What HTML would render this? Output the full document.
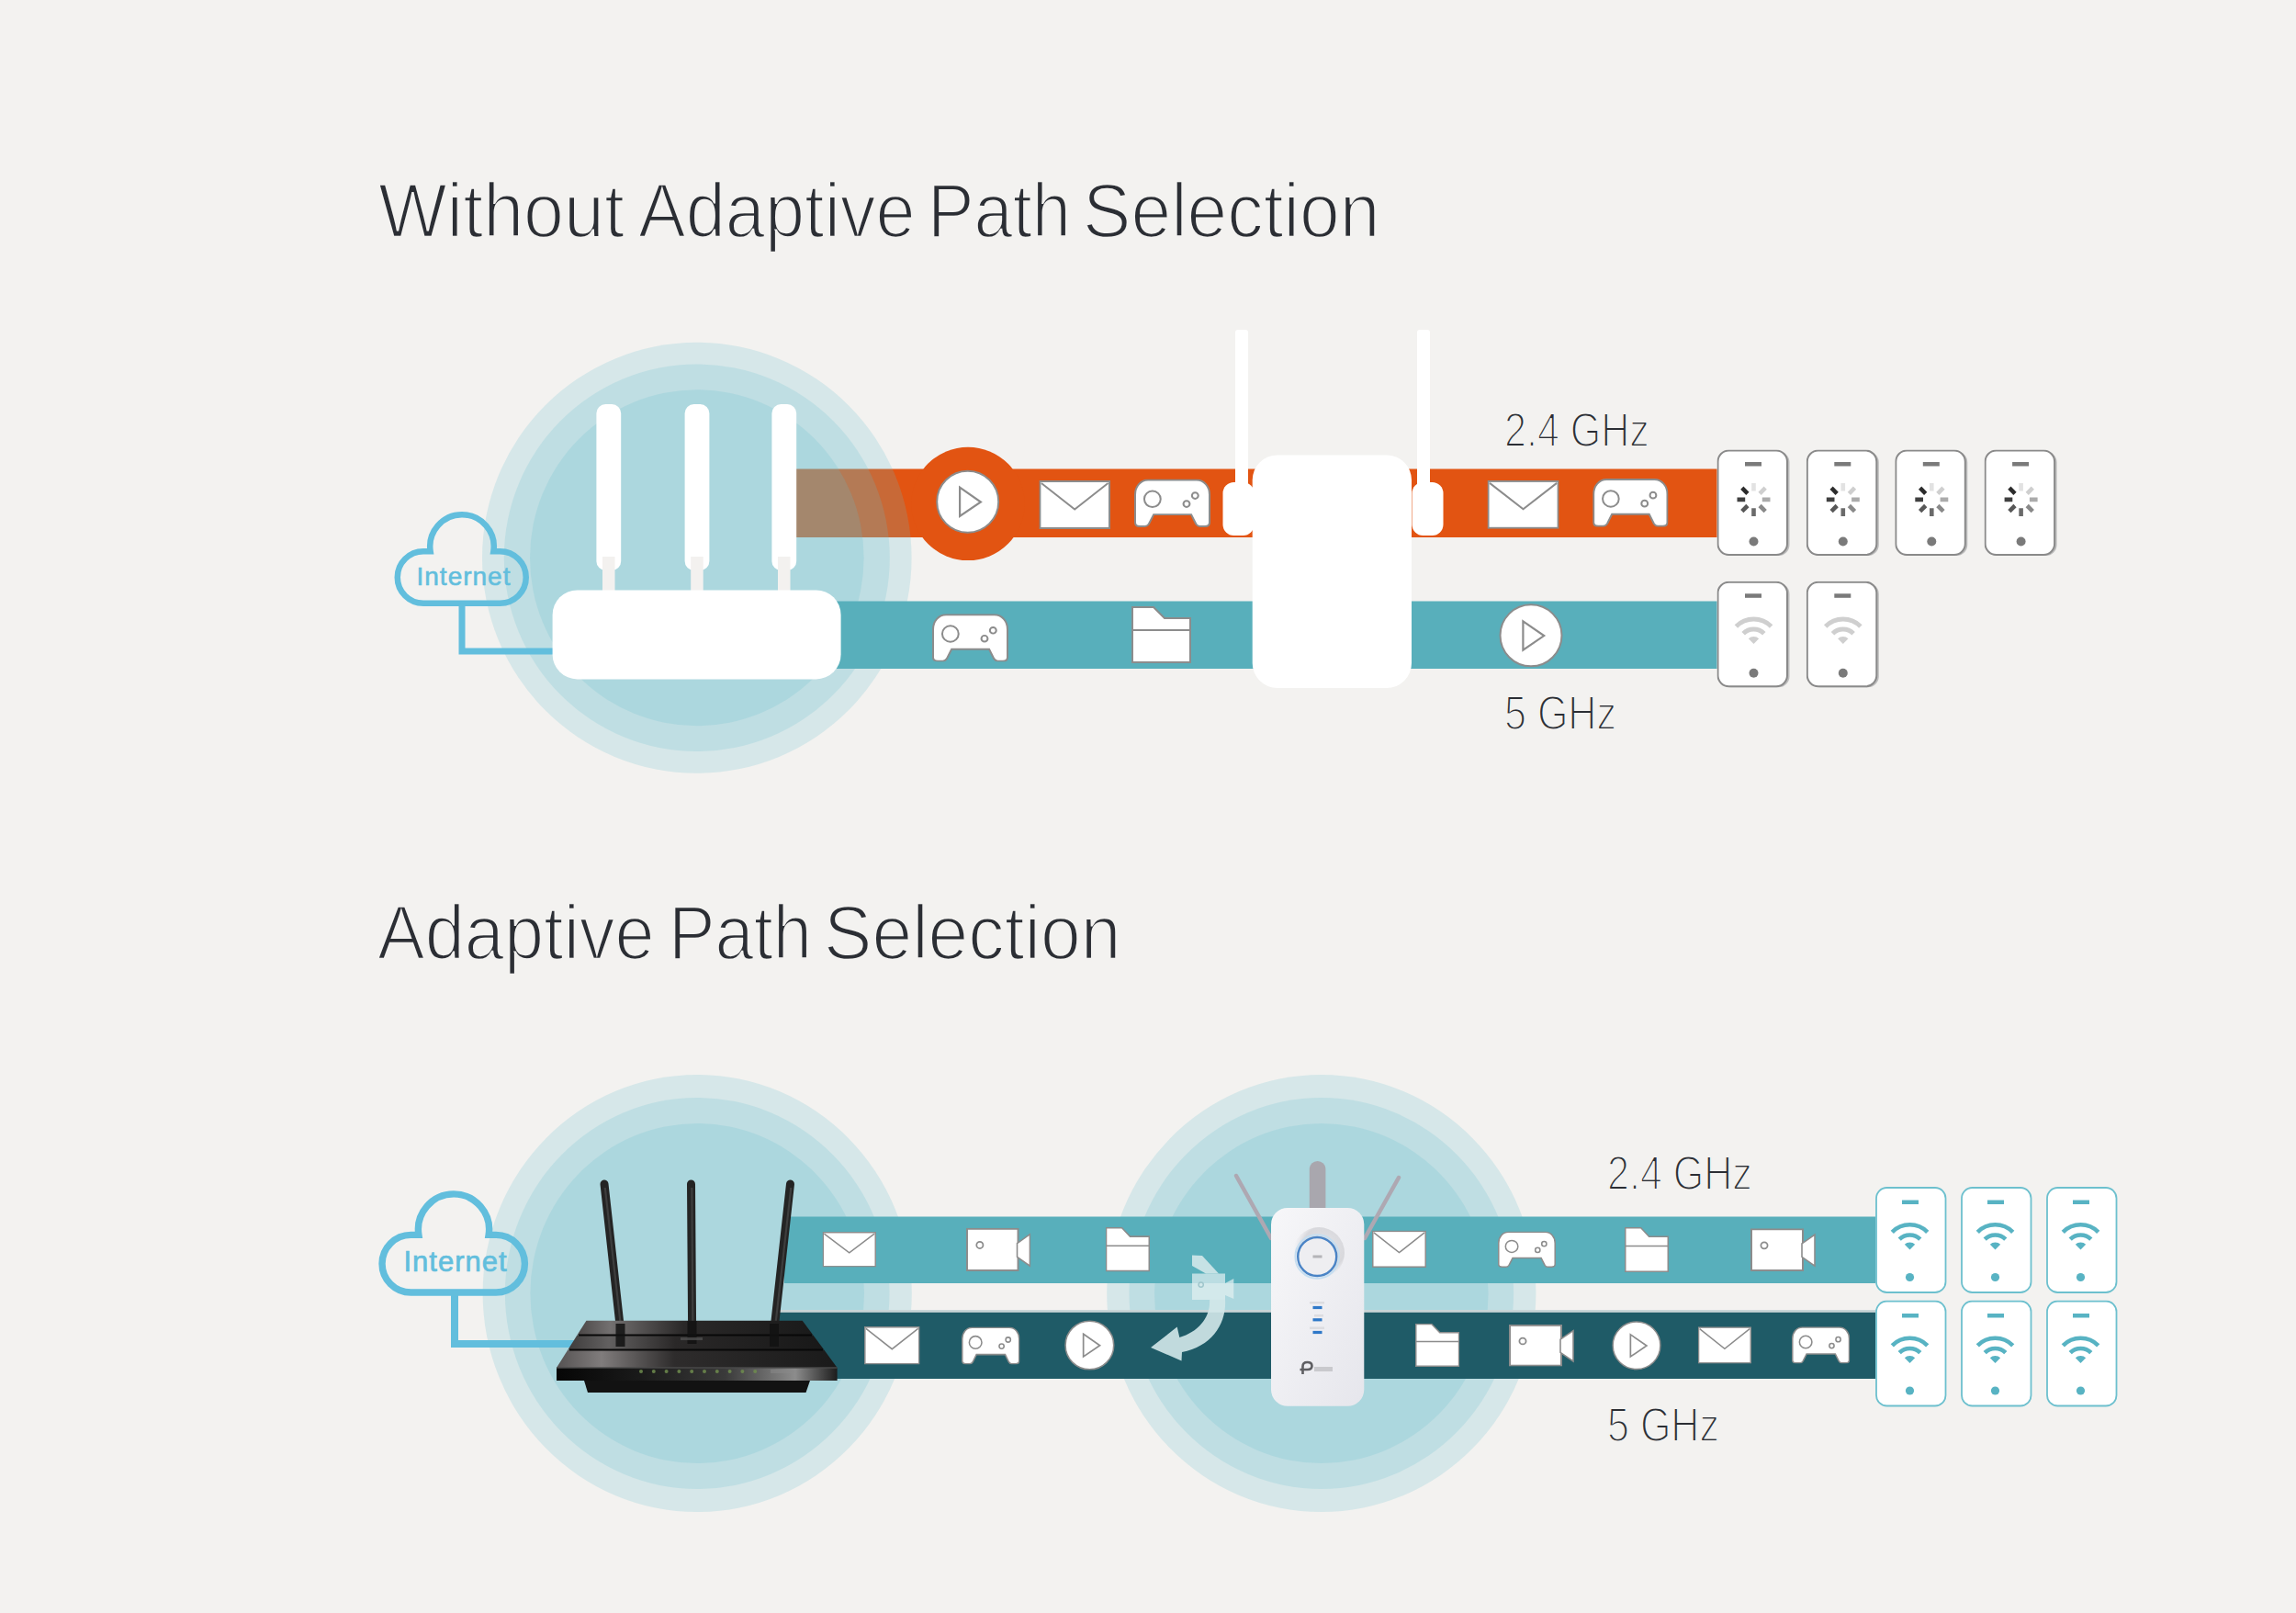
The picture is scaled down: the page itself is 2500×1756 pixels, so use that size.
<!DOCTYPE html>
<html><head><meta charset="utf-8"><title>Adaptive Path Selection</title>
<style>html,body{margin:0;padding:0;background:#f3f2f0;} body{width:2500px;height:1756px;position:relative;overflow:hidden;}</style>
</head><body>
<svg width="2500" height="1756" viewBox="0 0 2500 1756" style="position:absolute;left:0;top:0">
<defs>
 <symbol id="env" viewBox="0 0 78 53" preserveAspectRatio="none">
  <rect x="1" y="1" width="76" height="51" fill="#fff" stroke="#8c8c8c" stroke-width="2"/>
  <polyline points="2.5,3 39,31.5 75.5,3" fill="none" stroke="#8c8c8c" stroke-width="2"/>
 </symbol>
 <symbol id="pad" viewBox="0 0 82 53" preserveAspectRatio="none">
  <path d="M15,1 H67 C75,1 81,8 81,17 V48 C81,51 79,52 76,52 H70.5 C68.5,52 67.5,51 66.5,49.5 L61.3,39 H20.9 L15.7,49.5 C14.7,51 13.5,52 11.5,52 H6 C3,52 1,51 1,48 V17 C1,8 7,1 15,1 Z" fill="#fff" stroke="#8c8c8c" stroke-width="2"/>
  <circle cx="19.6" cy="22" r="8.8" fill="none" stroke="#8c8c8c" stroke-width="2"/>
  <circle cx="56.3" cy="27.3" r="3.4" fill="none" stroke="#8c8c8c" stroke-width="2"/>
  <circle cx="65.5" cy="18.2" r="3.4" fill="none" stroke="#8c8c8c" stroke-width="2"/>
 </symbol>
 <symbol id="play" viewBox="-35 -35 70 70">
  <circle r="33.5" fill="#fff" stroke="#8c8c8c" stroke-width="2"/>
  <polygon points="-8.6,-15.5 14.2,0.3 -8.6,15.8" fill="none" stroke="#8c8c8c" stroke-width="2.2" stroke-linejoin="miter"/>
 </symbol>
 <symbol id="fold" viewBox="0 0 65 62" preserveAspectRatio="none">
  <path d="M1,1 H24 L36,13 H64 V61 H1 Z" fill="#fff" stroke="#8c8c8c" stroke-width="2"/>
  <line x1="1" y1="26" x2="64" y2="26" stroke="#8c8c8c" stroke-width="2"/>
 </symbol>
 <symbol id="cam" viewBox="0 0 71 48" preserveAspectRatio="none">
  <rect x="1" y="1" width="56" height="46" fill="#fff" stroke="#8c8c8c" stroke-width="2"/>
  <polygon points="56,17 70,7 70,42 56,32" fill="#fff" stroke="#8c8c8c" stroke-width="1.6"/>
  <circle cx="15" cy="19" r="3.6" fill="none" stroke="#8c8c8c" stroke-width="1.8"/>
 </symbol>
 <symbol id="phoneG" viewBox="0 0 80 117">
  <rect x="3" y="2" width="76" height="113.5" rx="12" fill="#bdbdbd"/>
  <rect x="1" y="1" width="75.5" height="113.5" rx="12" fill="#fff" stroke="#8a8a8a" stroke-width="2"/>
  <rect x="30.5" y="13.5" width="18" height="4.5" fill="#7a7a7a"/>
  <circle cx="40" cy="100" r="5" fill="#7a7a7a"/>
 </symbol>
 <symbol id="spin" viewBox="-20 -20 40 40">
  <g stroke-width="4.6" stroke-linecap="butt">
   <line x1="0" y1="-9.3" x2="0" y2="-18" stroke="#e2e2e2"/>
   <line x1="6.6" y1="-6.6" x2="12.7" y2="-12.7" stroke="#cfcfcf"/>
   <line x1="9.3" y1="0" x2="18" y2="0" stroke="#ababab"/>
   <line x1="6.6" y1="6.6" x2="12.7" y2="12.7" stroke="#898989"/>
   <line x1="0" y1="9.3" x2="0" y2="18" stroke="#6a6a6a"/>
   <line x1="-6.6" y1="6.6" x2="-12.7" y2="12.7" stroke="#575757"/>
   <line x1="-9.3" y1="0" x2="-18" y2="0" stroke="#404040"/>
   <line x1="-6.6" y1="-6.6" x2="-12.7" y2="-12.7" stroke="#2c2c2c"/>
  </g>
 </symbol>
 <symbol id="wifiG" viewBox="-25 -32 50 36">
  <g fill="none" stroke="#cfcfcf" stroke-width="5">
   <path d="M-19.1,-19.1 A27 27 0 0 1 19.1,-19.1"/>
   <path d="M-11.3,-11.3 A16 16 0 0 1 11.3,-11.3"/>
  </g>
  <path d="M0,0 L-5.7,-5.7 A8 8 0 0 1 5.7,-5.7 Z" fill="#cfcfcf"/>
 </symbol>
 <symbol id="phoneT" viewBox="0 0 78 117">
  <rect x="1" y="1" width="75.5" height="114" rx="11.5" fill="#fff" stroke="#6dc0ce" stroke-width="1.8"/>
  <rect x="29" y="14.5" width="18" height="4.5" fill="#58b3c3"/>
  <circle cx="37.5" cy="98.5" r="4.6" fill="#58b3c3"/>
  <g fill="none" stroke="#58b3c3" stroke-width="4.6">
   <path d="M18.3,49.3 A27 27 0 0 1 56.7,49.3"/>
   <path d="M26.2,57.2 A16 16 0 0 1 48.8,57.2"/>
  </g>
  <path d="M37.5,68.5 L31.8,62.8 A8 8 0 0 1 43.2,62.8 Z" fill="#58b3c3"/>
 </symbol>
 <linearGradient id="rtT1" x1="0" y1="0" x2="1" y2="0">
  <stop offset="0" stop-color="#4a4646"/><stop offset="0.14" stop-color="#737070"/>
  <stop offset="0.45" stop-color="#2a2828"/><stop offset="1" stop-color="#1a1a1a"/>
 </linearGradient>
 <linearGradient id="rtT2" x1="0" y1="0" x2="1" y2="0">
  <stop offset="0" stop-color="#3e3c3c"/><stop offset="0.16" stop-color="#626060"/>
  <stop offset="0.42" stop-color="#2a2828"/><stop offset="1" stop-color="#181818"/>
 </linearGradient>
 <linearGradient id="rtT3" x1="0" y1="0" x2="1" y2="0">
  <stop offset="0" stop-color="#555252"/><stop offset="0.16" stop-color="#807c7c"/>
  <stop offset="0.42" stop-color="#2e2c2c"/><stop offset="1" stop-color="#1a1a1a"/>
 </linearGradient>
 <linearGradient id="rtFront" x1="0" y1="0" x2="1" y2="0">
  <stop offset="0" stop-color="#060606"/><stop offset="0.3" stop-color="#1a1a1a"/><stop offset="0.6" stop-color="#3a3a3a"/>
  <stop offset="0.85" stop-color="#8c8c8c"/><stop offset="1" stop-color="#1c1c1c"/>
 </linearGradient>
 <linearGradient id="repBody" x1="0" y1="0" x2="1" y2="1">
  <stop offset="0" stop-color="#f7f7f9"/><stop offset="1" stop-color="#e6e6ec"/>
 </linearGradient>
 <radialGradient id="btnGlow" cx="0.6" cy="0.4" r="0.6">
  <stop offset="0" stop-color="#e4e4e8"/><stop offset="0.7" stop-color="#d8d8dc"/><stop offset="1" stop-color="#eeeef2" stop-opacity="0"/>
 </radialGradient>
</defs>
<rect width="2500" height="1756" fill="#f3f2f0"/><rect x="860" y="510.5" width="1009.5" height="74.5" fill="#e25412"/><circle cx="1054" cy="548.4" r="61.7" fill="#e25412"/><ellipse cx="758.8" cy="607.3" rx="233.8" ry="234.5" fill="rgba(98,192,206,0.2)"/><ellipse cx="758.8" cy="607.3" rx="210" ry="210.8" fill="rgba(98,192,206,0.2)"/><ellipse cx="758.8" cy="607.3" rx="181.8" ry="183" fill="rgba(98,192,206,0.2)"/><rect x="880" y="654.5" width="989.5" height="73.5" fill="#58afbb"/><path transform="translate(503,595) scale(1.0)" d="M-34.35,5.25 A34.75 34.75 0 1 1 34.35,5.25 L41.5,5.25 A28.25 28.25 0 0 1 41.5,61.75 L-42,61.75 A28.25 28.25 0 0 1 -42,5.25 Z" fill="none" stroke="#62bedd" stroke-width="6.50"/><polyline points="503,656.75 503,709 603,709" fill="none" stroke="#62bedd" stroke-width="7"/><rect x="649.4" y="440" width="26.8" height="181" rx="10" fill="#fff"/><rect x="656.0" y="606" width="13.5" height="48" fill="#f3f1ef"/><rect x="745.6" y="440" width="26.8" height="181" rx="10" fill="#fff"/><rect x="752.2" y="606" width="13.5" height="48" fill="#f3f1ef"/><rect x="840.4" y="440" width="26.8" height="181" rx="10" fill="#fff"/><rect x="847.0" y="606" width="13.5" height="48" fill="#f3f1ef"/><rect x="601.6" y="642.4" width="314" height="97" rx="27" fill="#fff"/><use href="#play" x="1018.7" y="511.2" width="70.0" height="70.0"/><use href="#env" x="1131.4" y="523.0" width="77.6" height="53.0"/><use href="#pad" x="1235.0" y="521.5" width="83.0" height="52.5"/><use href="#env" x="1619.5" y="522.9" width="78.1" height="52.9"/><use href="#pad" x="1734.2" y="521.0" width="82.3" height="52.8"/><use href="#pad" x="1015.0" y="668.3" width="83.0" height="52.3"/><use href="#fold" x="1232.0" y="660.0" width="65.0" height="62.0"/><use href="#play" x="1632.0" y="656.8" width="70.0" height="70.0"/><rect x="1345" y="359" width="14" height="200" rx="3" fill="#fff"/><rect x="1543" y="359" width="14" height="200" rx="3" fill="#fff"/><rect x="1331.5" y="525" width="34" height="58" rx="12" fill="#fff"/><rect x="1537.5" y="525" width="34" height="58" rx="12" fill="#fff"/><rect x="1363.7" y="495.5" width="173.3" height="253.5" rx="27" fill="#fff"/><use href="#phoneG" x="1869.5" y="489.5" width="80.0" height="117.0"/><use href="#spin" x="1889.5" y="523.9" width="40.0" height="40.0"/><use href="#phoneG" x="1966.8" y="489.5" width="80.0" height="117.0"/><use href="#spin" x="1986.8" y="523.9" width="40.0" height="40.0"/><use href="#phoneG" x="2063.3" y="489.5" width="80.0" height="117.0"/><use href="#spin" x="2083.3" y="523.9" width="40.0" height="40.0"/><use href="#phoneG" x="2160.6" y="489.5" width="80.0" height="117.0"/><use href="#spin" x="2180.6" y="523.9" width="40.0" height="40.0"/><use href="#phoneG" x="1869.5" y="632.8" width="80.0" height="117.0"/><use href="#wifiG" x="1884.5" y="669.0" width="50.0" height="36.0"/><use href="#phoneG" x="1966.8" y="632.8" width="80.0" height="117.0"/><use href="#wifiG" x="1981.8" y="669.0" width="50.0" height="36.0"/><ellipse cx="759.2" cy="1408" rx="233.6" ry="238" fill="rgba(98,192,206,0.2)"/><ellipse cx="759.2" cy="1408" rx="209.3" ry="213" fill="rgba(98,192,206,0.2)"/><ellipse cx="759.2" cy="1408" rx="181.8" ry="185" fill="rgba(98,192,206,0.2)"/><ellipse cx="1438.8" cy="1408" rx="233.6" ry="238" fill="rgba(98,192,206,0.2)"/><ellipse cx="1438.8" cy="1408" rx="209.3" ry="213" fill="rgba(98,192,206,0.2)"/><ellipse cx="1438.8" cy="1408" rx="181.8" ry="185" fill="rgba(98,192,206,0.2)"/><rect x="854" y="1324.5" width="1188" height="72.5" fill="#58afbb"/><rect x="845" y="1426" width="1197" height="3" fill="#c9d5d7"/><rect x="845" y="1428.8" width="1197" height="72.2" fill="#1f5b67"/><path transform="translate(494,1338.5) scale(1.11)" d="M-34.35,5.25 A34.75 34.75 0 1 1 34.35,5.25 L41.5,5.25 A28.25 28.25 0 0 1 41.5,61.75 L-42,61.75 A28.25 28.25 0 0 1 -42,5.25 Z" fill="none" stroke="#62bedd" stroke-width="6.67"/><polyline points="495,1407 495,1463 630,1463" fill="none" stroke="#62bedd" stroke-width="8"/><line x1="658" y1="1289" x2="675.5" y2="1447" stroke="#242424" stroke-width="9" stroke-linecap="round"/><line x1="658.8" y1="1293" x2="676.3" y2="1447" stroke="#3e3e3e" stroke-width="2.2"/><line x1="752.5" y1="1289" x2="753.6" y2="1444" stroke="#242424" stroke-width="9" stroke-linecap="round"/><line x1="753.3" y1="1293" x2="754.4" y2="1444" stroke="#3e3e3e" stroke-width="2.2"/><line x1="860.5" y1="1289" x2="843" y2="1447" stroke="#242424" stroke-width="9" stroke-linecap="round"/><line x1="861.3" y1="1293" x2="843.8" y2="1447" stroke="#3e3e3e" stroke-width="2.2"/><polygon points="638.4,1437.7 873.7,1437.7 885.4,1453.6 628.4,1453.6" fill="url(#rtT1)"/><polygon points="628.4,1453.6 885.4,1453.6 897.3,1469.6 618.3,1469.6" fill="url(#rtT2)"/><polygon points="618.3,1469.6 897.3,1469.6 911.6,1489 606,1489" fill="url(#rtT3)"/><line x1="630" y1="1453.6" x2="884" y2="1453.6" stroke="#080808" stroke-width="2"/><line x1="620" y1="1469.6" x2="896" y2="1469.6" stroke="#080808" stroke-width="2"/><rect x="606" y="1489" width="305.6" height="14" fill="url(#rtFront)"/><rect x="606" y="1488" width="305.6" height="2" fill="#4a4a4a" opacity="0.7"/><polygon points="636,1503 882,1503 877.5,1516 640,1516" fill="#121212"/><circle cx="698.0" cy="1493" r="2" fill="#6f8c4e" opacity="0.85"/><circle cx="711.8" cy="1493" r="2" fill="#6f8c4e" opacity="0.85"/><circle cx="725.6" cy="1493" r="2" fill="#6f8c4e" opacity="0.85"/><circle cx="739.4" cy="1493" r="2" fill="#6f8c4e" opacity="0.85"/><circle cx="753.2" cy="1493" r="2" fill="#6f8c4e" opacity="0.85"/><circle cx="767.0" cy="1493" r="2" fill="#6f8c4e" opacity="0.85"/><circle cx="780.8" cy="1493" r="2" fill="#6f8c4e" opacity="0.85"/><circle cx="794.6" cy="1493" r="2" fill="#6f8c4e" opacity="0.85"/><circle cx="808.4" cy="1493" r="2" fill="#6f8c4e" opacity="0.85"/><circle cx="822.2" cy="1493" r="2" fill="#6f8c4e" opacity="0.85"/><rect x="839" y="1491" width="26" height="4" fill="#8a8a8a" opacity="0.5"/><rect x="670.5" y="1441" width="10" height="25" fill="#121212" opacity="0.85"/><rect x="748.5" y="1438" width="10" height="25" fill="#121212" opacity="0.85"/><rect x="838" y="1441" width="10" height="25" fill="#121212" opacity="0.85"/><rect x="741" y="1456" width="24" height="3" fill="#555" opacity="0.7"/><use href="#env" x="895.5" y="1341.0" width="58.5" height="38.5"/><use href="#cam" x="1052.0" y="1336.8" width="70.4" height="47.2"/><use href="#fold" x="1203.8" y="1336.0" width="48.2" height="48.4"/><use href="#env" x="1494.0" y="1339.6" width="59.0" height="40.4"/><use href="#pad" x="1631.0" y="1340.6" width="63.0" height="39.4"/><use href="#fold" x="1769.0" y="1336.0" width="48.0" height="49.0"/><use href="#cam" x="1906.0" y="1337.3" width="71.0" height="46.7"/><use href="#env" x="941.0" y="1444.0" width="60.6" height="41.5"/><use href="#pad" x="1047.0" y="1444.4" width="63.5" height="41.1"/><use href="#play" x="1158.9" y="1437.0" width="55.0" height="55.0"/><use href="#fold" x="1541.0" y="1440.8" width="48.3" height="47.2"/><use href="#cam" x="1643.0" y="1442.0" width="71.0" height="45.6"/><use href="#play" x="1755.0" y="1437.8" width="54.0" height="54.0"/><use href="#env" x="1848.8" y="1444.3" width="58.2" height="40.3"/><use href="#pad" x="1951.0" y="1444.3" width="63.3" height="40.3"/><g fill="#e2f0f1" opacity="0.72"><rect x="1298" y="1386.5" width="36" height="28.5"/><polygon points="1334,1397 1343.3,1392 1343.3,1414 1334,1410"/></g><circle cx="1307.7" cy="1398.6" r="2.6" fill="none" stroke="#9fc6cc" stroke-width="1.5"/><g fill="#d3e8ea" opacity="0.9"><polygon points="1298,1366.5 1309,1367 1327,1386.5 1313,1386.5 1298,1378"/><path d="M1317,1414 L1334,1414 C1336,1440 1320,1466 1287,1472 L1286.5,1481.5 L1253,1467 L1281.7,1444.6 L1284.3,1456 C1305,1450 1318.5,1434 1317,1414 Z"/></g><rect x="1425.8" y="1264" width="17.6" height="70" rx="8.8" fill="#a9a7ae"/><line x1="1346" y1="1280" x2="1384" y2="1348" stroke="#aea8b2" stroke-width="4.5" stroke-linecap="round"/><line x1="1523" y1="1282" x2="1486" y2="1348" stroke="#aea8b2" stroke-width="4.5" stroke-linecap="round"/><rect x="1384" y="1315" width="101.3" height="215.8" rx="18" fill="url(#repBody)"/><circle cx="1436" cy="1364" r="28" fill="url(#btnGlow)"/><circle cx="1434.2" cy="1368" r="23.8" fill="none" stroke="#c6def0" stroke-width="2"/><circle cx="1434.2" cy="1368" r="21" fill="#eeeef1" stroke="#4a84c6" stroke-width="2.4"/><rect x="1429.5" y="1366.5" width="10" height="3" fill="#b4b4b8"/><rect x="1429.5" y="1421.9" width="10" height="3.2" fill="#2f78c8"/><rect x="1429.5" y="1435.2" width="10" height="3.2" fill="#2f78c8"/><rect x="1429.5" y="1448.9" width="10" height="3.2" fill="#2f78c8"/><rect x="1426" y="1417" width="16" height="2.5" fill="#dcdce0"/><rect x="1431" y="1431" width="10" height="2.5" fill="#dcdce0"/><rect x="1426" y="1444.5" width="16" height="2.5" fill="#dcdce0"/><path d="M1418.5,1496 L1418.5,1487.5 Q1418.5,1483 1423.5,1483 Q1428.5,1483 1428.5,1487 Q1428.5,1491 1423.5,1491 L1415.5,1491" fill="none" stroke="#5e5e62" stroke-width="2.6"/><rect x="1431" y="1488" width="20" height="5" fill="#c9c9cd"/><use href="#phoneT" x="2042.0" y="1292.0" width="78.0" height="117.0"/><use href="#phoneT" x="2135.0" y="1292.0" width="78.0" height="117.0"/><use href="#phoneT" x="2228.0" y="1292.0" width="78.0" height="117.0"/><use href="#phoneT" x="2042.0" y="1415.5" width="78.0" height="117.0"/><use href="#phoneT" x="2135.0" y="1415.5" width="78.0" height="117.0"/><use href="#phoneT" x="2228.0" y="1415.5" width="78.0" height="117.0"/></svg>
<div style="position:absolute;left:411.8px;top:186.6px;font-family:'Liberation Sans',sans-serif;font-size:84.2px;line-height:1;white-space:nowrap;font-weight:normal;color:#2b2e34;transform-origin:0 0;transform:scaleX(0.939);-webkit-text-stroke:2.4px #f3f2f0;">Without</div><div style="position:absolute;left:694.76px;top:186.6px;font-family:'Liberation Sans',sans-serif;font-size:84.2px;line-height:1;white-space:nowrap;font-weight:normal;color:#2b2e34;transform-origin:0 0;transform:scaleX(0.921);-webkit-text-stroke:2.4px #f3f2f0;">Adaptive</div><div style="position:absolute;left:1010.0px;top:186.6px;font-family:'Liberation Sans',sans-serif;font-size:84.2px;line-height:1;white-space:nowrap;font-weight:normal;color:#2b2e34;transform-origin:0 0;transform:scaleX(0.901);-webkit-text-stroke:2.4px #f3f2f0;">Path</div><div style="position:absolute;left:1178.9px;top:186.6px;font-family:'Liberation Sans',sans-serif;font-size:84.2px;line-height:1;white-space:nowrap;font-weight:normal;color:#2b2e34;transform-origin:0 0;transform:scaleX(0.9337);-webkit-text-stroke:2.4px #f3f2f0;">Selection</div><div style="position:absolute;left:411.16px;top:973px;font-family:'Liberation Sans',sans-serif;font-size:84.2px;line-height:1;white-space:nowrap;font-weight:normal;color:#2b2e34;transform-origin:0 0;transform:scaleX(0.921);-webkit-text-stroke:2.4px #f3f2f0;">Adaptive</div><div style="position:absolute;left:727.8px;top:973px;font-family:'Liberation Sans',sans-serif;font-size:84.2px;line-height:1;white-space:nowrap;font-weight:normal;color:#2b2e34;transform-origin:0 0;transform:scaleX(0.901);-webkit-text-stroke:2.4px #f3f2f0;">Path</div><div style="position:absolute;left:897.0px;top:973px;font-family:'Liberation Sans',sans-serif;font-size:84.2px;line-height:1;white-space:nowrap;font-weight:normal;color:#2b2e34;transform-origin:0 0;transform:scaleX(0.9337);-webkit-text-stroke:2.4px #f3f2f0;">Selection</div><div style="position:absolute;left:1637.5px;top:441.5px;font-family:'Liberation Sans',sans-serif;font-size:52.3px;line-height:1;white-space:nowrap;font-weight:normal;color:#2b2e34;transform-origin:0 0;transform:scaleX(0.823);-webkit-text-stroke:2px #f3f2f0;">2.4 GHz</div><div style="position:absolute;left:1638px;top:750px;font-family:'Liberation Sans',sans-serif;font-size:52.3px;line-height:1;white-space:nowrap;font-weight:normal;color:#2b2e34;transform-origin:0 0;transform:scaleX(0.823);-webkit-text-stroke:2px #f3f2f0;">5 GHz</div><div style="position:absolute;left:1749.5px;top:1251px;font-family:'Liberation Sans',sans-serif;font-size:52.3px;line-height:1;white-space:nowrap;font-weight:normal;color:#2b2e34;transform-origin:0 0;transform:scaleX(0.823);-webkit-text-stroke:2px #f3f2f0;">2.4 GHz</div><div style="position:absolute;left:1750px;top:1525px;font-family:'Liberation Sans',sans-serif;font-size:52.3px;line-height:1;white-space:nowrap;font-weight:normal;color:#2b2e34;transform-origin:0 0;transform:scaleX(0.823);-webkit-text-stroke:2px #f3f2f0;">5 GHz</div><div style="position:absolute;left:453.5px;top:614px;font-family:'Liberation Sans',sans-serif;font-size:28px;line-height:1;white-space:nowrap;font-weight:normal;color:#62bedd;transform-origin:0 0;transform:scaleX(1.0);-webkit-text-stroke:0.6px #62bedd;letter-spacing:1.0px;">Internet</div><div style="position:absolute;left:439.5px;top:1357.8px;font-family:'Liberation Sans',sans-serif;font-size:31px;line-height:1;white-space:nowrap;font-weight:normal;color:#62bedd;transform-origin:0 0;transform:scaleX(1.0);-webkit-text-stroke:0.7px #62bedd;letter-spacing:1.0px;">Internet</div>
</body></html>
